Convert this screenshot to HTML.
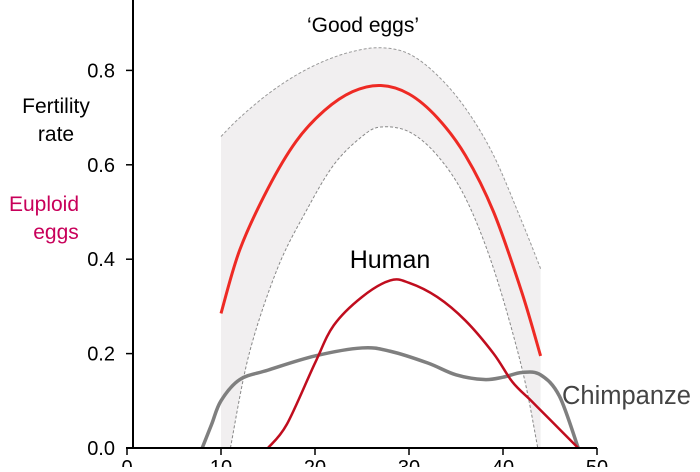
<!DOCTYPE html>
<html><head><meta charset="utf-8"><style>
body{margin:0;background:#fff}
svg text{font-family:"Liberation Sans",Arial,sans-serif}
</style></head><body>
<svg width="700" height="467" viewBox="0 0 700 467">
<g id="marks"></g>
<g id="axes"></g>
<text x="56" y="113" font-size="21" text-anchor="middle" fill="#000">Fertility</text>
<text x="56" y="141" font-size="21" text-anchor="middle" fill="#000">rate</text>
<text x="44" y="211" font-size="21" text-anchor="middle" fill="#c8005a">Euploid</text>
<text x="56" y="239" font-size="21" text-anchor="middle" fill="#c8005a">eggs</text>
<text x="363" y="32" font-size="21" text-anchor="middle" fill="#000">‘Good eggs’</text>
<text x="390" y="268" font-size="25" text-anchor="middle" fill="#000">Human</text>
<text x="562" y="404" font-size="25.5" fill="#444">Chimpanze</text>
</svg>
<script>
const ages=[10,12,15,18,21,24,27,30,33,36,39,42,44];
const euploid=[0.285,0.42,0.55,0.65,0.715,0.755,0.768,0.75,0.70,0.62,0.50,0.33,0.195];
const bandUpper=[0.66,0.70,0.75,0.79,0.82,0.84,0.848,0.835,0.79,0.72,0.62,0.48,0.38];
const lowerAges=[11,13,16,19,22,25,27,30,33,36,39,42,43.7];
const bandLower=[0.0,0.2,0.38,0.5,0.6,0.66,0.68,0.67,0.62,0.53,0.38,0.17,0.0];
const humanAges=[15,17,20,22,25,28,30,33,36,39,41,43,45,48];
const human=[0,0.05,0.18,0.26,0.32,0.355,0.35,0.32,0.27,0.2,0.14,0.1,0.06,0];
const chimpAges=[8,9,10,12,15,20,25,28,32,35,38,40,42,44,46,48];
const chimp=[0,0.05,0.1,0.145,0.165,0.195,0.212,0.205,0.18,0.155,0.145,0.15,0.16,0.155,0.11,0];
const xTicks=[0,10,20,30,40,50];
const yTicks=[0.0,0.2,0.4,0.6,0.8];
const X=a=>127+a*9.4, Y=v=>448-v*472;
const NS='http://www.w3.org/2000/svg';
function pts(xs,ys){return xs.map((a,i)=>[X(a),Y(ys[i])]);}
function smooth(p){let d=`M${p[0][0]},${p[0][1]}`;for(let i=0;i<p.length-1;i++){const p0=p[i-1]||p[i],p1=p[i],p2=p[i+1],p3=p[i+2]||p2;d+=` C${p1[0]+(p2[0]-p0[0])/6},${p1[1]+(p2[1]-p0[1])/6} ${p2[0]-(p3[0]-p1[0])/6},${p2[1]-(p3[1]-p1[1])/6} ${p2[0]},${p2[1]}`;}return d;}
function mk(tag,attrs,parent){const e=document.createElementNS(NS,tag);for(const k in attrs)e.setAttribute(k,attrs[k]);parent.appendChild(e);return e;}
const m=document.getElementById('marks'),ax=document.getElementById('axes');
const up=pts(ages,bandUpper),lo=pts(lowerAges,bandLower);
const bandD=smooth(up)+` L${X(44)},${Y(0)} L${X(10)},${Y(0)} Z`;
let b=mk('path',{d:bandD,fill:'#f1eff0'},m);


let lw=mk('path',{d:smooth(lo),fill:'#fff'},m);


let bu=mk('path',{d:smooth(up),fill:'none',stroke:'#999','stroke-width':1,'stroke-dasharray':'3,2'},m);


let bl=mk('path',{d:smooth(lo),fill:'none',stroke:'#888','stroke-width':1,'stroke-dasharray':'3,2'},m);


let c=mk('path',{d:smooth(pts(chimpAges,chimp)),fill:'none',stroke:'#7f7f7f','stroke-width':3.5},m);


let e=mk('path',{d:smooth(pts(ages,euploid)),fill:'none',stroke:'#ee2a24','stroke-width':3},m);


let h=mk('path',{d:smooth(pts(humanAges,human)),fill:'none',stroke:'#c00d1e','stroke-width':2.5},m);


let ya=mk('line',{x1:133,y1:0,x2:133,y2:448,stroke:'#000','stroke-width':2},ax);


let xa=mk('line',{x1:126,y1:448,x2:X(50),y2:448,stroke:'#000','stroke-width':2},ax);


yTicks.forEach(v=>{const t=mk('line',{x1:126,y1:Y(v),x2:133,y2:Y(v),stroke:'#000','stroke-width':1.5},ax);


const l=mk('text',{x:115,y:Y(v)+7,'font-size':20,'text-anchor':'end'},ax);l.textContent=v.toFixed(1);

});
xTicks.forEach(v=>{const t=mk('line',{x1:X(v),y1:448,x2:X(v),y2:455,stroke:'#000','stroke-width':1.5},ax);


const l=mk('text',{x:X(v),y:474,'font-size':20,'text-anchor':'middle'},ax);l.textContent=v;

});
</script>
</body></html>
